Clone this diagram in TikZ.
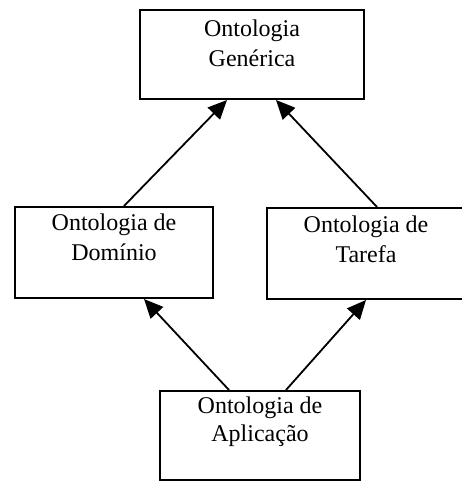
\documentclass[tikz,border=0pt]{standalone}
\usepackage{fontspec}
\setmainfont{Liberation Serif}
\usetikzlibrary{arrows.meta}
\begin{document}
\begin{tikzpicture}[x=1pt,y=1pt,
  box/.style={draw=black,line width=2pt,rectangle,inner sep=0pt},
  txt/.style={align=center,font=\fontsize{24}{30}\selectfont,inner sep=0pt},
  arr/.style={line width=1.8pt,-{Triangle[length=19pt,width=17pt]}}]
\useasboundingbox (0,0) rectangle (462,-484);
\node[box,minimum width=224,minimum height=89] (gen) at (252,-54.5) {};
\node[box,minimum width=198,minimum height=91] (dom) at (114,-252.5) {};
\node[box,minimum width=198,minimum height=91] (tar) at (366,-253.5) {};
\node[box,minimum width=200,minimum height=89] (apl) at (260,-435.5) {};
\node[txt] (tgen) at ([yshift=-34pt]gen.north) {Ontologia\\Genérica};
\node[txt] (tdom) at ([yshift=-31pt]dom.north) {Ontologia de\\Domínio};
\node[txt] (ttar) at ([yshift=-32pt]tar.north) {Ontologia de\\Tarefa};
\node[txt,font=\fontsize{24}{28}\selectfont] (tapl) at ([yshift=-32pt]apl.north) {Ontologia de\\Aplicação};
\draw[arr] ([xshift=110pt]dom.north west) -- ([xshift=88pt]gen.south west);
\draw[arr] ([xshift=111pt]tar.north west) -- ([xshift=137pt]gen.south west);
\draw[arr] ([xshift=70pt]apl.north west) -- ([xshift=130pt]dom.south west);
\draw[arr] ([xshift=127pt]apl.north west) -- ([xshift=100pt]tar.south west);
\end{tikzpicture}
\end{document}
